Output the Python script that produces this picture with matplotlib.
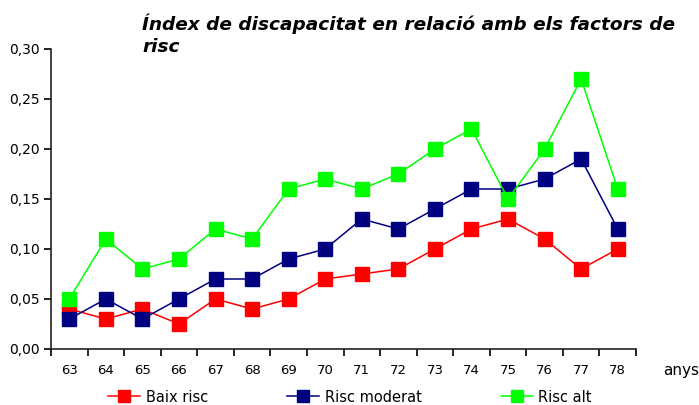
"""
Índex de discapacitat en relació amb els factors de risc
"""

import matplotlib

matplotlib.use("Agg")
from matplotlib import pyplot as plt

years = ["63", "64", "65", "66", "67", "68", "69", "70",
         "71", "72", "73", "74", "75", "76", "77", "78"]
baix_risc = [0.04, 0.03, 0.04, 0.025, 0.05, 0.04, 0.05, 0.07,
             0.075, 0.08, 0.10, 0.12, 0.13, 0.11, 0.08, 0.10]
risc_moderat = [0.03, 0.05, 0.03, 0.05, 0.07, 0.07, 0.09, 0.10,
                0.13, 0.12, 0.14, 0.16, 0.16, 0.17, 0.19, 0.12]
risc_alt = [0.05, 0.11, 0.08, 0.09, 0.12, 0.11, 0.16, 0.17,
            0.16, 0.175, 0.20, 0.22, 0.15, 0.20, 0.27, 0.16]
y_ticks = [0.0, 0.05, 0.10, 0.15, 0.20, 0.25, 0.30]

plt.rcParams["font.family"] = ["DejaVu Sans"]

W, H = 699, 405
fig = plt.figure(figsize=(W / 100, H / 100), dpi=100)
ax = fig.add_axes([51 / W, (H - 349) / H, (636 - 51) / W, 300 / H])

x = list(range(len(years)))
series = [
    (baix_risc, "#ff0000", "Baix risc"),
    (risc_moderat, "#000080", "Risc moderat"),
    (risc_alt, "#00ff00", "Risc alt"),
]
for vals, col, lab in series:
    ax.plot(x, vals, color=col, lw=1.1, marker="s", ms=9.5,
            markeredgecolor=col, label=lab, clip_on=False)

ax.set_xlim(-0.5, len(years) - 0.5)
ax.set_ylim(0, 0.30)
ax.set_yticks(y_ticks)
ax.set_yticklabels([f"{v:.2f}".replace(".", ",") for v in y_ticks])
ax.set_xticks([i - 0.5 for i in range(len(years) + 1)])
ax.set_xticklabels([])
ax.set_xticks(x, minor=True)
ax.set_xticklabels(years, minor=True)
ax.tick_params(axis="x", which="minor", length=0, pad=11, labelsize=9.5)
ax.tick_params(axis="x", which="major", length=5, width=1.2, direction="out")
ax.tick_params(axis="y", length=5, width=1.2, direction="out", labelsize=10, pad=3)
for s in ["top", "right"]:
    ax.spines[s].set_visible(False)
for s in ["left", "bottom"]:
    ax.spines[s].set_linewidth(1.2)
    ax.spines[s].set_color("#222222")

fig.text(663 / W, 1 - 370 / H, "anys", fontsize=11, va="center", ha="left")
fig.text(142 / W, 1 - 35 / H, "Índex de discapacitat en relació amb els factors de\nrisc",
         fontsize=13.3, fontweight="bold", fontstyle="italic", va="center", ha="left",
         linespacing=1.25)

fig.legend(loc="center", bbox_to_anchor=(350 / W, 1 - 397 / H), ncol=3, frameon=False,
           fontsize=10.5, handlelength=2.2, handletextpad=0.4, columnspacing=5.4,
           markerscale=0.9)

fig.savefig("out.png", dpi=100)
